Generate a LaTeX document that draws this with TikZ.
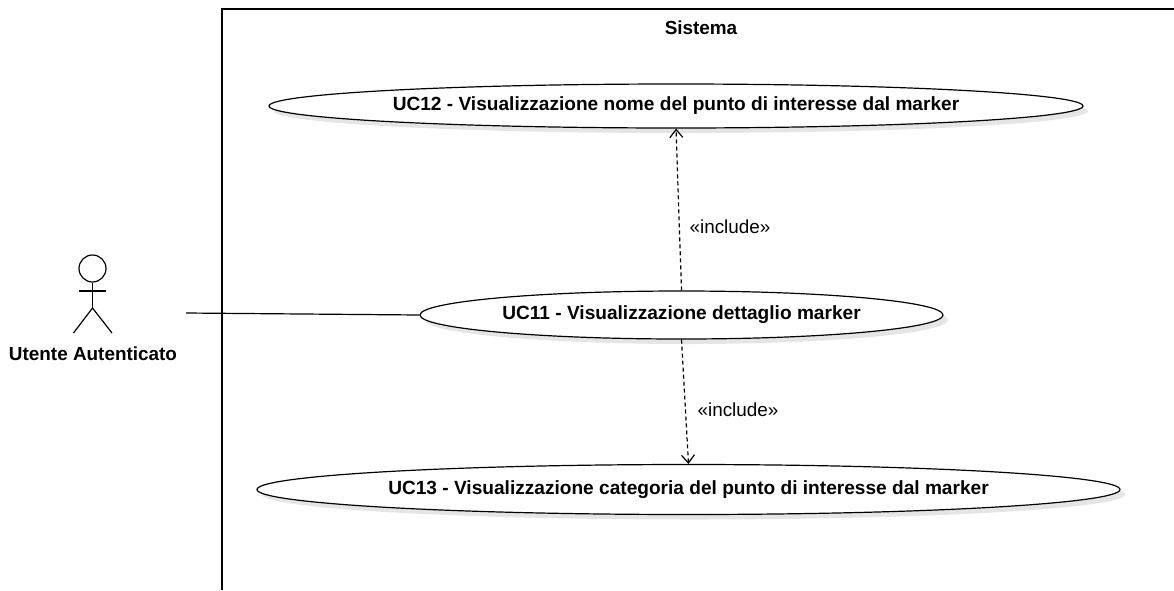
\documentclass[tikz,border=0pt]{standalone}
\usepackage{fontspec}
\setmainfont{Liberation Sans}
\usetikzlibrary{shapes.geometric,arrows.meta,shadows}
\begin{document}
\begin{tikzpicture}[x=1pt,y=-1pt,
  usecase/.style={ellipse,draw=black,line width=1.2pt,fill=white,inner sep=0pt,
    font=\fontsize{19.1}{22}\selectfont\bfseries,
    general shadow={fill=black!10,shadow xshift=5pt,shadow yshift=-5pt}},
  actorline/.style={draw=black,line width=1.2pt},
  inc/.style={draw=black,line width=1.2pt,dash pattern=on 4pt off 3pt,
    -{Straight Barb[length=8pt,width=13pt,line width=1.2pt]}},
  lbl/.style={font=\fontsize{18.9}{22}\selectfont,inner sep=0pt},
  boldlbl/.style={font=\fontsize{18.9}{22}\selectfont\bfseries,inner sep=0pt}]
\useasboundingbox (0,0) rectangle (1174,590);
% system boundary
\draw[line width=1.2pt] (222,590) -- (222,9) -- (1174,9);
\node[boldlbl] (sys) at (701,28) {Sistema};
% use cases
\node[usecase,minimum width=814pt,minimum height=44pt] (uc12) at (676,106)
  {UC12 - Visualizzazione nome del punto di interesse dal marker};
\node[usecase,minimum width=523pt,minimum height=48pt] (uc11) at (681.5,315)
  {UC11 - Visualizzazione dettaglio marker};
\node[usecase,minimum width=863pt,minimum height=50pt] (uc13) at (688.5,489.5)
  {UC13 - Visualizzazione categoria del punto di interesse dal marker};
% actor
\node[circle,draw=black,line width=1.2pt,minimum size=27pt,inner sep=0pt] (head) at (92.5,268.5) {};
\coordinate (hip) at (92.5,308);
\coordinate (armL) at (79,291);
\coordinate (armR) at (106,291);
\coordinate (footL) at (73.5,333);
\coordinate (footR) at (112,333);
\draw[actorline] (head.south) -- (hip);
\draw[actorline] (armL) -- (armR);
\draw[actorline] (footL) -- (hip) -- (footR);
\node[boldlbl] (actor) at (93,354) {Utente Autenticato};
\coordinate (assoc) at (186,313);
\draw[actorline] (assoc) -- (uc11.west);
% includes
\draw[inc] (uc11.north) -- (uc12.south);
\draw[inc] (uc11.south) -- (uc13.north);
\node[lbl] (inc1) at (730,227) {«include»};
\node[lbl] (inc2) at (738,410) {«include»};
\end{tikzpicture}
\end{document}
